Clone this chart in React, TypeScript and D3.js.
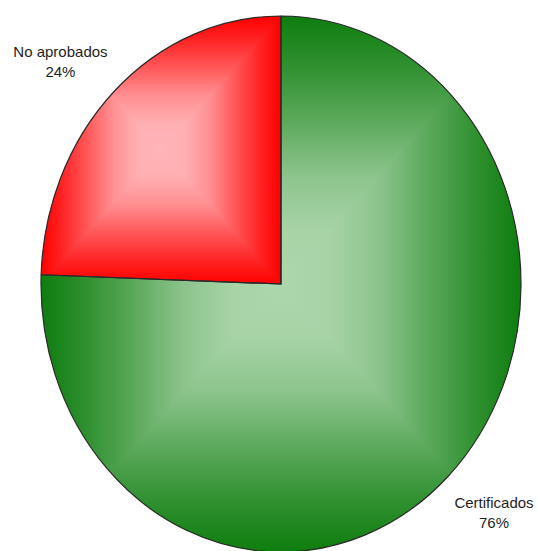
import * as d3 from "d3";

// chart data
const categories = ["Certificados", "No aprobados"];
const values = [75.55, 24.45];
const percentLabels = ["76%", "24%"];
const darkColors = ["#0e7d0e", "#ff0000"];
const lightColors = ["#acd6ac", "#ffb4b8"];

// gradient profile (edge -> centre)
const gradStops: [number, number][] = [
    [0, 0], [0.17, 0.19], [0.375, 0.47], [0.59, 0.79], [0.8, 0.97], [1, 1],
];

const width = 537;
const height = 551;
const cx = 281;
const cy = 284;
const rx = 240;
const ry = 268;
const fontSize = 15;
const lineHeight = 20;
const ascent = 13.6;
const descent = 3.2;
const labelRx = 1.04;
const labelRy = 1.075;
const labelDy = 3;

function measure(text: string) {
    const ctx = document.createElement("canvas").getContext("2d");
    if (!ctx) return text.length * 7;
    ctx.font = `${fontSize}px "Liberation Sans", Arial, sans-serif`;
    return ctx.measureText(text).width;
}

function sliceBBox(a0: number, a1: number) {
    const pts: [number, number][] = [[cx, cy]];
    const n = 400;
    for (let k = 0; k <= n; k++) {
        const a = a0 + ((a1 - a0) * k) / n;
        pts.push([cx + rx * Math.sin(a), cy - ry * Math.cos(a)]);
    }
    const [x0, x1] = d3.extent(pts, (p) => p[0]) as [number, number];
    const [y0, y1] = d3.extent(pts, (p) => p[1]) as [number, number];
    return { x0, x1, y0, y1 };
}

export default function App() {
    const pie = d3.pie<number>().sort(null).value((d) => d);
    const arcs = pie(values);
    const arc = d3.arc<d3.PieArcDatum<number>>().innerRadius(0).outerRadius(rx);
    const sy = ry / rx;
    const tf = `translate(${cx},${cy}) scale(1,${sy})`;

    return (
        <svg width={width} height={height} style={{ position: "absolute", left: 0, top: 0 }}
             fontFamily='"Liberation Sans", Arial, sans-serif'>
            <defs>
                {arcs.map((a, i) => {
                    const b = sliceBBox(a.startAngle, a.endAngle);
                    const mx = (b.x0 + b.x1) / 2;
                    const my = (b.y0 + b.y1) / 2;
                    const interp = d3.interpolateRgb(darkColors[i], lightColors[i]);
                    const stops = gradStops.map(([o, f], k) => (
                        <stop key={k} offset={o} stopColor={interp(f)} />
                    ));
                    return (
                        <g key={i}>
                            <clipPath id={`clip${i}`}>
                                <path d={arc(a) || ""} transform={tf} />
                            </clipPath>
                            <linearGradient id={`gt${i}`} gradientUnits="userSpaceOnUse" x1={mx} y1={b.y0} x2={mx} y2={my}>{stops}</linearGradient>
                            <linearGradient id={`gb${i}`} gradientUnits="userSpaceOnUse" x1={mx} y1={b.y1} x2={mx} y2={my}>{stops}</linearGradient>
                            <linearGradient id={`gl${i}`} gradientUnits="userSpaceOnUse" x1={b.x0} y1={my} x2={mx} y2={my}>{stops}</linearGradient>
                            <linearGradient id={`gr${i}`} gradientUnits="userSpaceOnUse" x1={b.x1} y1={my} x2={mx} y2={my}>{stops}</linearGradient>
                        </g>
                    );
                })}
            </defs>

            {/* slices with pillow shading */}
            {arcs.map((a, i) => {
                const b = sliceBBox(a.startAngle, a.endAngle);
                const mx = (b.x0 + b.x1) / 2;
                const my = (b.y0 + b.y1) / 2;
                const k = (2 * (b.y1 - b.y0)) / (b.x1 - b.x0);
                return (
                    <g key={i} clipPath={`url(#clip${i})`}>
                        <rect x={b.x0 - 2} y={b.y0 - 2} width={mx - b.x0 + 2} height={b.y1 - b.y0 + 4} fill={`url(#gl${i})`} />
                        <rect x={mx} y={b.y0 - 2} width={b.x1 - mx + 2} height={b.y1 - b.y0 + 4} fill={`url(#gr${i})`} />
                        <path d={`M${b.x0 - 2},${b.y0 - k}L${b.x1 + 2},${b.y0 - k}L${mx},${my}Z`} fill={`url(#gt${i})`} />
                        <path d={`M${b.x0 - 2},${b.y1 + k}L${b.x1 + 2},${b.y1 + k}L${mx},${my}Z`} fill={`url(#gb${i})`} />
                    </g>
                );
            })}

            {/* outlines */}
            {arcs.map((a, i) => (
                <path key={i} d={arc(a) || ""} transform={tf} fill="none" stroke="#2a2a2a"
                      strokeWidth={1.2} vectorEffect="non-scaling-stroke" strokeLinejoin="round" />
            ))}

            {/* labels */}
            {arcs.map((a, i) => {
                const mid = (a.startAngle + a.endAngle) / 2;
                const px = cx + labelRx * rx * Math.sin(mid);
                const py = cy - labelRy * ry * Math.cos(mid) + labelDy;
                const lines = [categories[i], percentLabels[i]];
                const w = Math.max(...lines.map(measure));
                const boxCx = Math.sin(mid) < 0 ? px - w / 2 : px + w / 2;
                const firstBase = Math.cos(mid) > 0
                    ? py - descent - (lines.length - 1) * lineHeight
                    : py + ascent;
                return (
                    <text key={i} x={boxCx} y={firstBase} textAnchor="middle" fontSize={fontSize} fill="#1e1e1e">
                        {lines.map((l, k) => (
                            <tspan key={k} x={boxCx} y={firstBase + k * lineHeight}>{l}</tspan>
                        ))}
                    </text>
                );
            })}
        </svg>
    );
}
